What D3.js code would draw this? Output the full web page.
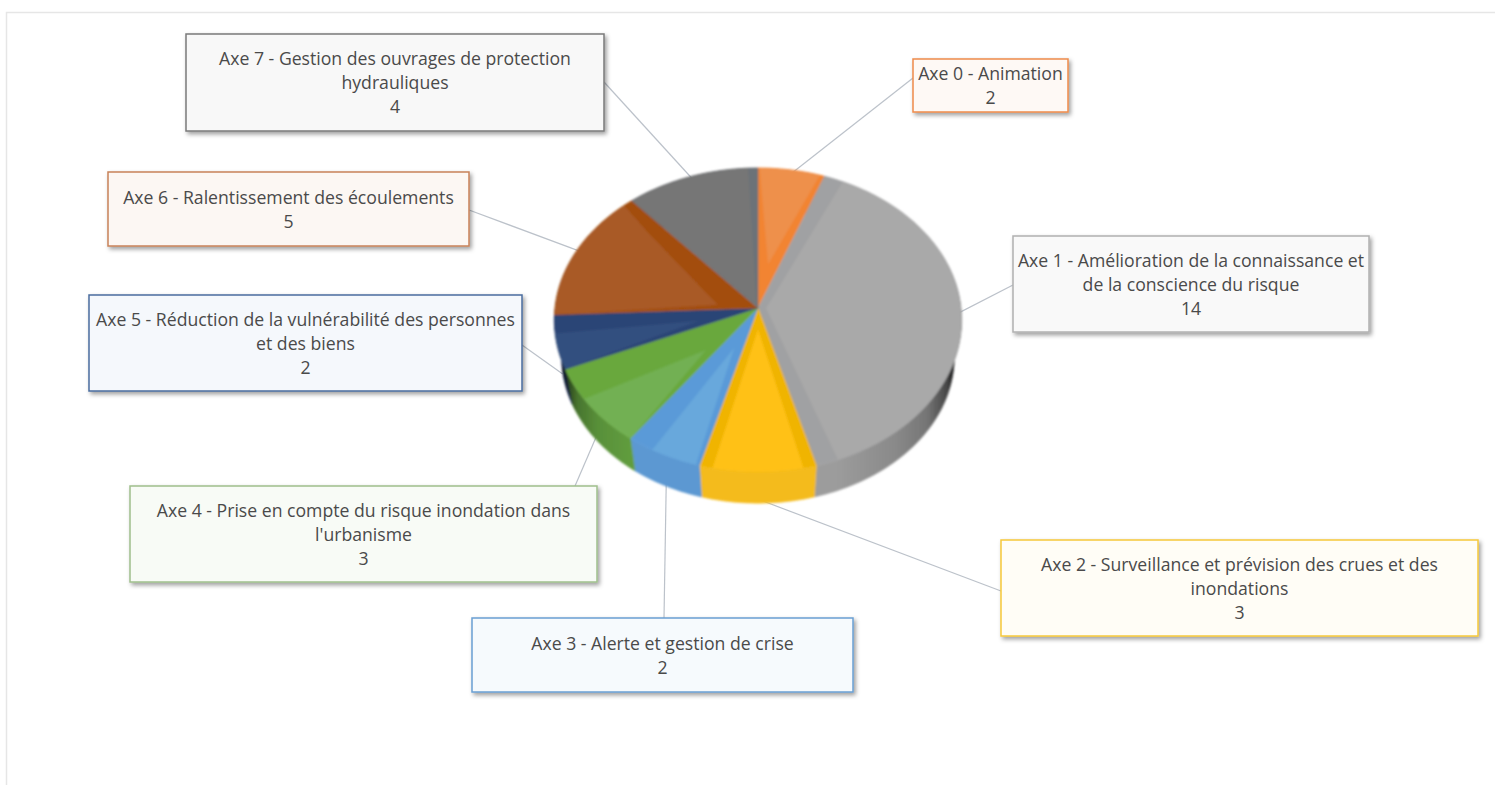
<!DOCTYPE html>
<html><head><meta charset="utf-8">
<script src="https://cdn.jsdelivr.net/npm/d3@7"></script>
<style>html,body{margin:0;background:#fff}svg{display:block}text{font-family:"Open Sans",sans-serif;font-size:17.65px;fill:#4a4a4a}</style>
</head><body><svg id="c" width="1495" height="785"></svg>
<script>
// data
const categories = [
  ["Axe 0 - Animation"],
  ["Axe 1 - Amélioration de la connaissance et","de la conscience du risque"],
  ["Axe 2 - Surveillance et prévision des crues et des","inondations"],
  ["Axe 3 - Alerte et gestion de crise"],
  ["Axe 4 - Prise en compte du risque inondation dans","l'urbanisme"],
  ["Axe 5 - Réduction de la vulnérabilité des personnes","et des biens"],
  ["Axe 6 - Ralentissement des écoulements"],
  ["Axe 7 - Gestion des ouvrages de protection","hydrauliques"]
];
const values = [2,14,3,2,3,2,5,4];
// styles
const innerColors = ["#ee904c","#a9a9a9","#ffc118","#68a8dc","#72b052","#33507f","#a95a25","#767676"];
const strokeColors= ["#f28432","#a0a1a3","#f0b400","#5a9ad8","#69a83e","#2c4476","#a34e10","#6c7278"];
const sideColors  = ["#e07a30","#9c9c9c","#f4bb1c","#5b98d2","#609c3e","#2c4476","#9c4c12","#666666"];
const boxBorder   = ["#ee8a4a","#b0b0b0","#f6c83a","#6a9fd2","#9fbf8c","#4a6c9e","#c8825a","#7a7a7a"];
const boxFill     = ["#fef9f5","#f9f9f9","#fffdf6","#f6fafd","#f8fbf6","#f5f8fc","#fcf7f3","#f8f8f8"];
// bevel of each slice: start inset deg, end inset deg, apex radius, apex angle offset in fraction, optional knee [deg before end, radius]
const bevel = [[.5,1.5,.3,.5],[6,6,.04,.5],[3.5,3.5,.14,.5],[1,7,.28,.6],[0,12,.37,.35],[0,7,.3,.5],[0,3,.2,.18,[6,.78]],[0,3,.02,.5]];
// layout
const boxes = [[913,59,155,53],[1013,236,356,96],[1001,540,477,96],[472,618,381,74],[130,486,467,96],[89,295,433,96],[108,172,361,74],[186,34,418,97]];
const anchors = [[913,78],[1013,285],[1001,591],[664,618],[575,486],[522,345],[469,210],[604,82]];
const cx=758, cy=308, a=203, b=151, k=.0787;
const baseScale=.965, baseCy=345;

const svg=d3.select("#c");
const defs=svg.append("defs");
const f=defs.append("filter").attr("id","sh").attr("x","-5%").attr("y","-10%").attr("width","110%").attr("height","125%");
f.append("feDropShadow").attr("dx",2).attr("dy",2.5).attr("stdDeviation",2).attr("flood-color","#000").attr("flood-opacity",.38);
defs.append("filter").attr("id","soft").append("feGaussianBlur").attr("stdDeviation",1);
const g=defs.append("linearGradient").attr("id","shade").attr("gradientUnits","userSpaceOnUse").attr("x1",558).attr("x2",955).attr("y1",0).attr("y2",0);
[[0,.95],[.02,.6],[.05,.25],[.1,.08],[.18,0],[.7,0],[.85,.12],[.93,.25],[.98,.55],[1,.9]].forEach(s=>g.append("stop").attr("offset",s[0]).attr("stop-color","#000").attr("stop-opacity",s[1]));

// frame
svg.append("path").attr("d","M1495,12.5H6.5V785").attr("fill","none").attr("stroke","#e6e6e6").attr("stroke-width",1.5);

const pie=d3.pie().sort(null).value(d=>d)(values);
const proj=(t,r=1,scale=1,oy=cy)=>{const X=r*Math.sin(t),Y=-r*Math.cos(t),d=1-k*Y;return [cx+a*scale*X/d,oy+b*scale*Y/d];};
const base=t=>proj(t,1,baseScale,baseCy);
const arcPts=(t0,t1,fn)=>{const n=Math.max(2,Math.ceil((t1-t0)/.02));return d3.range(n+1).map(i=>fn(t0+(t1-t0)*i/n));};
const line=d3.line().curve(d3.curveLinear);
const closed=p=>line(p)+"Z";
const deg=Math.PI/180;

// leader lines (they run slightly under the pie)
svg.append("g").selectAll("path").data(pie).join("path")
  .attr("d",(d,i)=>{const m=(d.startAngle+d.endAngle)/2;const front=-Math.cos(m)>.1;const t=proj(m,.97);return line([anchors[i],[t[0],front?base(m)[1]-4:t[1]]]);})
  .attr("fill","none").attr("stroke","#bcc2ca").attr("stroke-width",1.2);

const P=svg.append("g").attr("filter","url(#soft)");
// sides
P.append("g").selectAll("path").data(pie).join("path")
  .attr("d",d=>closed(arcPts(d.startAngle,d.endAngle,proj).concat(arcPts(d.startAngle,d.endAngle,base).reverse())))
  .attr("fill",(d,i)=>sideColors[i]).attr("stroke",(d,i)=>sideColors[i]).attr("stroke-width",.5);
P.append("path").attr("d",closed(arcPts(Math.PI/2-.4,Math.PI*1.5+.4,proj).concat(arcPts(Math.PI/2-.4,Math.PI*1.5+.4,base).reverse())))
  .attr("fill","url(#shade)");
// top outer slices
P.append("g").selectAll("path").data(pie).join("path")
  .attr("d",d=>closed([proj(0,0)].concat(arcPts(d.startAngle,d.endAngle,proj))))
  .attr("fill",(d,i)=>strokeColors[i]).attr("stroke",(d,i)=>strokeColors[i]).attr("stroke-width",.5);
// top inner facets
P.append("g").selectAll("path").data(pie).join("path")
  .attr("d",(d,i)=>{const [s,e,r,fr,knee]=bevel[i];const t0=d.startAngle+s*deg,t1=d.endAngle-e*deg,m=t0+(t1-t0)*fr;
    const pts=[proj(m,r)].concat(arcPts(t0,t1,proj));
    if(knee) pts.push(proj(d.endAngle-knee[0]*deg,knee[1]));
    return closed(pts);})
  .attr("fill",(d,i)=>innerColors[i]);

// boxes
const B=svg.append("g").selectAll("g").data(pie).join("g");
B.append("rect").attr("x",(d,i)=>boxes[i][0]).attr("y",(d,i)=>boxes[i][1]).attr("width",(d,i)=>boxes[i][2]).attr("height",(d,i)=>boxes[i][3])
  .attr("fill",(d,i)=>boxFill[i]).attr("stroke",(d,i)=>boxBorder[i]).attr("stroke-width",1.5).attr("filter","url(#sh)");
B.each(function(d,i){
  const lines=categories[i].concat([String(values[i])]);
  const [x,y,w,h]=boxes[i];
  const top=y+h/2-(lines.length-1)*12+.7;
  d3.select(this).selectAll("text").data(lines).join("text")
    .attr("x",x+w/2).attr("y",(l,j)=>top+j*24).attr("dy","0.35em").attr("text-anchor","middle").text(l=>l);
});
</script></body></html>
